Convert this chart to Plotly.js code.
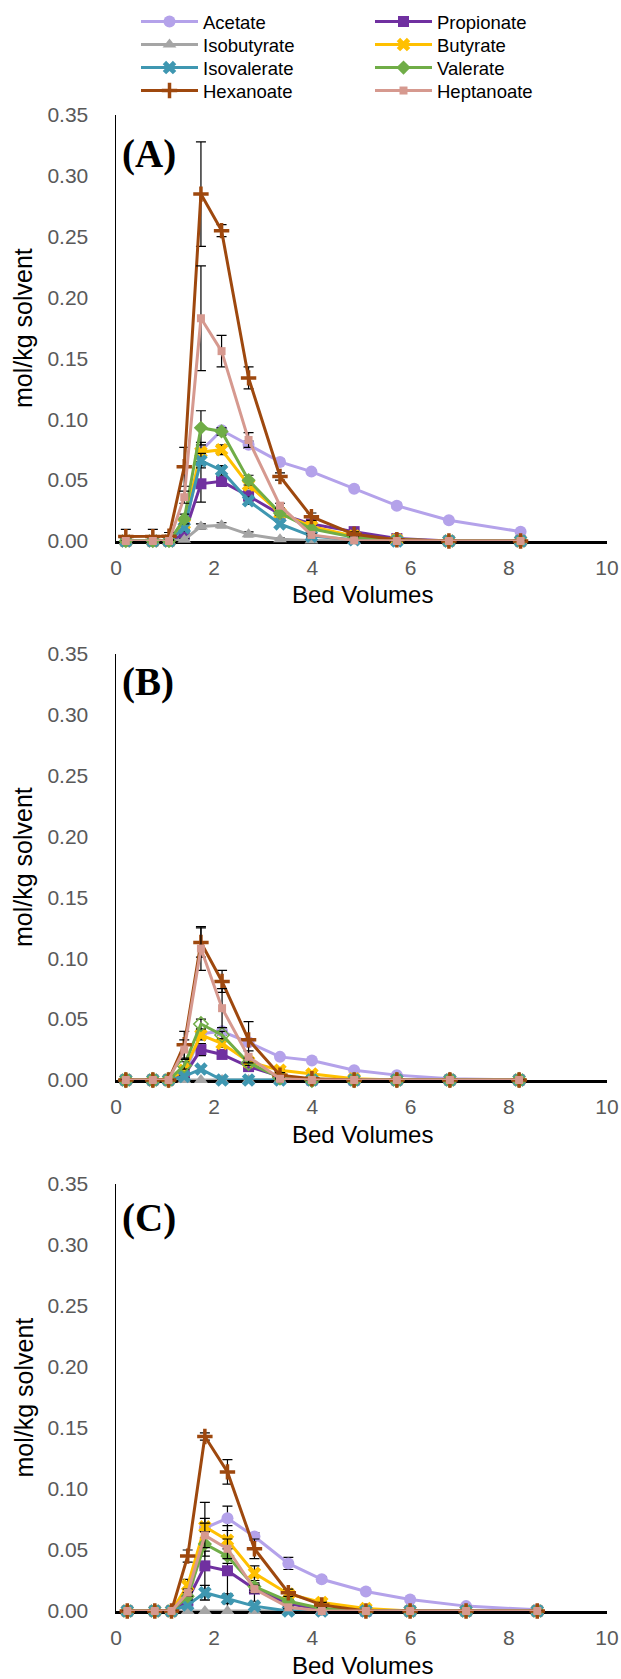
<!DOCTYPE html>
<html><head><meta charset="utf-8">
<script src="https://cdn.plot.ly/plotly-3.0.1.min.js"></script>
<style>html,body{margin:0;padding:0;background:#fff}#chart{width:621px;height:1679px}</style>
</head><body><div id="chart"></div>
<script>
// ---------------- data ----------------
const acids = ['Acetate','Propionate','Isobutyrate','Butyrate','Isovalerate','Valerate','Hexanoate','Heptanoate'];
const panelLabels = ['(A)','(B)','(C)'];
const xTickVals = [0,2,4,6,8,10];
const yTickVals = [0,0.05,0.10,0.15,0.20,0.25,0.30,0.35];

// Panel A
const bedVolA      = [0.20,0.75,1.08,1.39,1.73,2.15,2.70,3.34,3.98,4.85,5.72,6.78,8.24];
const acetateA     = [0,0,0,0.005,0.074,0.091,0.079,0.065,0.057,0.043,0.029,0.017,0.0077];
const propionateA  = [0,0,0,0.0055,0.047,0.049,0.037,0.022,0.014,0.0077,0.002,0,0];
const isobutyrateA = [0,0,0,0.001,0.012,0.013,0.0055,0.0014,0.0005,0,0,0,0];
const butyrateA    = [0,0,0,0.014,0.073,0.075,0.046,0.023,0.012,0.004,0.001,0,0];
const isovalerateA = [0,0,0,0.011,0.066,0.058,0.033,0.014,0.004,0.001,0,0,0];
const valerateA    = [0,0,0,0.018,0.093,0.090,0.050,0.023,0.010,0.003,0.001,0,0];
const hexanoateA   = [0.0036,0.0036,0.004,0.061,0.285,0.255,0.134,0.053,0.020,0.0055,0.001,0,0];
const heptanoateA  = [0,0,0,0.036,0.183,0.156,0.083,0.029,0.005,0.0005,0,0,0];
const acetateErrA     = [0,0,0,0,0.004,0.002,0.003,0.002,0.001,0.001,0.002,0.001,0.001];
const propionateErrA  = [0,0,0,0.003,0.015,0.004,0.004,0.002,0.001,0.001,0,0,0];
const isobutyrateErrA = [0,0,0,0.001,0.002,0.002,0.002,0.001,0,0,0,0,0];
const butyrateErrA    = [0,0,0,0.004,0.008,0.004,0.003,0.002,0.001,0,0,0,0];
const isovalerateErrA = [0,0,0,0.003,0.006,0.004,0.003,0.002,0.001,0,0,0,0];
const valerateErrA    = [0,0,0,0.004,0.014,0.003,0.004,0.002,0.001,0,0,0,0];
const hexanoateErrA   = [0.006,0.006,0.003,0.016,0.043,0.005,0.009,0.003,0.003,0.002,0,0,0];
const heptanoateErrA  = [0,0,0,0.005,0.043,0.013,0.006,0.002,0.001,0,0,0,0];

// Panel B
const bedVolB      = [0.20,0.75,1.07,1.39,1.73,2.16,2.70,3.34,3.99,4.85,5.72,6.80,8.21];
const acetateB     = [0,0,0,0.004,0.038,0.040,0.031,0.019,0.016,0.008,0.004,0.001,0];
const propionateB  = [0,0,0,0.004,0.025,0.021,0.011,0.003,0,0,0,0,0];
const isobutyrateB = [0,0,0,0,0,0,0,0,0,0,0,0,0];
const butyrateB    = [0,0,0,0.008,0.037,0.030,0.015,0.008,0.005,0.001,0,0,0];
const isovalerateB = [0,0,0,0.003,0.009,0,0,0,0,0,0,0,0];
const valerateB    = [0,0,0,0.012,0.046,0.037,0.014,0.002,0,0,0,0,0];
const hexanoateB   = [0,0,0,0.029,0.113,0.081,0.033,0.004,0.001,0,0,0,0];
const heptanoateB  = [0,0,0,0.025,0.108,0.059,0.019,0.001,0,0,0,0,0];
const acetateErrB     = [0,0,0,0,0.003,0.003,0.002,0.001,0.001,0.001,0,0,0];
const propionateErrB  = [0,0,0,0.002,0.005,0.003,0.002,0.001,0,0,0,0,0];
const isobutyrateErrB = [0,0,0,0,0,0,0,0,0,0,0,0,0];
const butyrateErrB    = [0,0,0,0.002,0.004,0.003,0.002,0.001,0.001,0,0,0,0];
const isovalerateErrB = [0,0,0,0.001,0.002,0,0,0,0,0,0,0,0];
const valerateErrB    = [0,0,0,0.003,0.004,0.003,0.002,0.001,0,0,0,0,0];
const hexanoateErrB   = [0,0,0,0.011,0.012,0.009,0.015,0.002,0,0,0,0,0];
const heptanoateErrB  = [0,0,0,0.008,0.018,0.016,0.005,0.001,0,0,0,0,0];

// Panel C
const bedVolC      = [0.23,0.79,1.13,1.46,1.81,2.27,2.82,3.51,4.19,5.09,5.99,7.13,8.58];
const acetateC     = [0,0,0,0.005,0.068,0.076,0.061,0.039,0.026,0.016,0.0095,0.004,0.001];
const propionateC  = [0,0,0,0.009,0.037,0.033,0.018,0.006,0.001,0,0,0,0];
const isobutyrateC = [0,0,0,0,0,0,0,0,0,0,0,0,0];
const butyrateC    = [0,0,0,0.021,0.069,0.058,0.031,0.014,0.007,0.002,0,0,0];
const isovalerateC = [0,0,0,0.005,0.015,0.010,0.004,0,0,0,0,0,0];
const valerateC    = [0,0,0,0.012,0.055,0.045,0.020,0.008,0.002,0,0,0,0];
const hexanoateC   = [0,0,0,0.045,0.143,0.114,0.051,0.015,0.005,0,0,0,0];
const heptanoateC  = [0,0,0,0.015,0.062,0.051,0.018,0.003,0,0,0,0,0];
const acetateErrC     = [0,0,0,0,0.008,0.010,0.003,0.005,0.002,0.001,0.001,0,0];
const propionateErrC  = [0,0,0,0.004,0.028,0.033,0.010,0.002,0,0,0,0,0];
const isobutyrateErrC = [0,0,0,0,0,0,0,0,0,0,0,0,0];
const butyrateErrC    = [0,0,0,0.005,0.020,0.012,0.006,0.002,0.001,0,0,0,0];
const isovalerateErrC = [0,0,0,0.002,0.006,0.004,0.002,0,0,0,0,0,0];
const valerateErrC    = [0,0,0,0.003,0.010,0.006,0.003,0.001,0,0,0,0,0];
const hexanoateErrC   = [0,0,0,0.005,0.003,0.010,0.008,0.003,0.002,0,0,0,0];
const heptanoateErrC  = [0,0,0,0.003,0.010,0.008,0.003,0.001,0,0,0,0,0];

// ---------------- styles ----------------
const colors  = ['#B4A2EA','#7030A0','#A5A5A5','#FFC000','#3F97B1','#70AD47','#9E480E','#D6998F'];
const symbols = ['circle','square','triangle-up','x','x','diamond','cross-thin-open','square'];
const msizes  = [12,11,12,12,12,11,11,8];

const panels = [
  {x: bedVolA, ys:[acetateA,propionateA,isobutyrateA,butyrateA,isovalerateA,valerateA,hexanoateA,heptanoateA],
   es:[acetateErrA,propionateErrA,isobutyrateErrA,butyrateErrA,isovalerateErrA,valerateErrA,hexanoateErrA,heptanoateErrA]},
  {x: bedVolB, ys:[acetateB,propionateB,isobutyrateB,butyrateB,isovalerateB,valerateB,hexanoateB,heptanoateB],
   es:[acetateErrB,propionateErrB,isobutyrateErrB,butyrateErrB,isovalerateErrB,valerateErrB,hexanoateErrB,heptanoateErrB]},
  {x: bedVolC, ys:[acetateC,propionateC,isobutyrateC,butyrateC,isovalerateC,valerateC,hexanoateC,heptanoateC],
   es:[acetateErrC,propionateErrC,isobutyrateErrC,butyrateErrC,isovalerateErrC,valerateErrC,hexanoateErrC,heptanoateErrC]}
];

const W = 621, H = 1679, L = 116, R = 14;
const plotW = W - L - R;
const px = v => (v - L) / plotW;
const py = v => 1 - v / H;
const tops = [115, 654, 1184], bottoms = [541, 1080, 1611];
const labelY = [154, 682, 1218];
const legendRowsY = [22, 45, 68, 91];
const legendNames = ['legend','legend2','legend3','legend4'];

const font = 'Liberation Sans, Arial, sans-serif';
const traces = [];
panels.forEach((p, pi) => {
  const sfx = pi === 0 ? '' : String(pi + 1);
  acids.forEach((name, i) => {
    const isCross = symbols[i].indexOf('cross') === 0;
    let sym = symbols[i], mline = isCross ? 3.5 : 0;
    if (pi === 1 && name === 'Valerate') { sym = 'diamond-open'; mline = 1.5; }
    traces.push({
      type: 'scatter', mode: 'lines+markers', name: name,
      x: p.x, y: p.ys[i],
      xaxis: 'x' + sfx, yaxis: 'y' + sfx,
      showlegend: pi === 0,
      legend: legendNames[Math.floor(i / 2)],
      legendwidth: (i % 2 === 0) ? 162 : 110,
      cliponaxis: false,
      line: {color: colors[i], width: 3},
      marker: {symbol: sym, size: msizes[i], color: colors[i],
               line: {color: colors[i], width: mline}},
      error_y: {type: 'data', array: p.es[i], visible: true, color: '#000', thickness: 1.2, width: 5}
    });
  });
});

const layout = {
  width: W, height: H,
  margin: {l: L, r: R, t: 0, b: 0, pad: 0},
  paper_bgcolor: '#fff', plot_bgcolor: '#fff',
  font: {family: font, color: '#000'},
  showlegend: true,
  annotations: []
};
legendNames.forEach((ln, r) => {
  layout[ln] = {x: px(136), xanchor: 'left', y: py(legendRowsY[r]), yanchor: 'middle', orientation: 'h',
    font: {family: font, size: 18.5, color: '#000'}, itemwidth: 57, bgcolor: 'rgba(0,0,0,0)',
    borderwidth: 0, traceorder: 'normal'};
});

[0,1,2].forEach(pi => {
  const sfx = pi === 0 ? '' : String(pi + 1);
  layout['xaxis' + sfx] = {
    domain: [0, 1], anchor: 'y' + sfx, range: [0, 10], tickvals: xTickVals,
    showgrid: false, zeroline: false, showline: true, linecolor: '#000', linewidth: 3,
    ticks: '', ticklabelstandoff: 6, layer: 'below traces',
    tickfont: {family: font, size: 21, color: '#595959'}
  };
  layout['yaxis' + sfx] = {
    domain: [py(bottoms[pi]), py(tops[pi])], anchor: 'x' + sfx, range: [0, 0.35],
    tickvals: yTickVals, tickformat: '.2f',
    showgrid: false, zeroline: false, showline: true, linecolor: '#000', linewidth: 1.5,
    ticks: '', ticklabelstandoff: 22, layer: 'below traces',
    tickfont: {family: font, size: 21, color: '#595959'}
  };
  layout.annotations.push({
    text: 'mol/kg solvent', xref: 'paper', yref: 'paper', x: px(23), y: py((tops[pi] + bottoms[pi]) / 2),
    xanchor: 'center', yanchor: 'middle', textangle: -90, showarrow: false,
    font: {family: font, size: 25, color: '#000'}
  });
  layout.annotations.push({
    text: 'Bed Volumes', xref: 'paper', yref: 'paper', x: px(362), y: py(bottoms[pi] + 54),
    xanchor: 'center', yanchor: 'middle', showarrow: false,
    font: {family: font, size: 24, color: '#000'}
  });
  layout.annotations.push({
    text: '<b>' + panelLabels[pi] + '</b>', xref: 'paper', yref: 'paper', x: px(120), y: py(labelY[pi]),
    xanchor: 'left', yanchor: 'middle', showarrow: false,
    font: {family: 'Liberation Serif, Times New Roman, serif', size: 39, color: '#000'}
  });
});

Plotly.newPlot('chart', traces, layout, {displayModeBar: false, staticPlot: true});
</script></body></html>
